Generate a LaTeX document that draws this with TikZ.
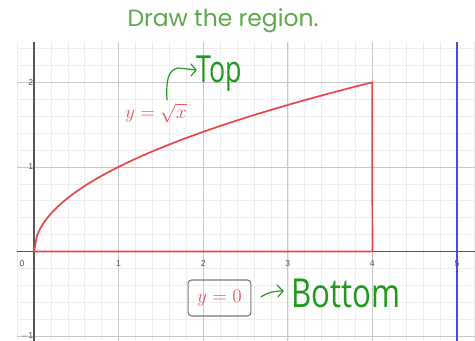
\documentclass[tikz,border=0pt]{standalone}
\usepackage{fontspec}
\usepackage{graphicx}
\setmainfont{Liberation Sans}
\newfontfamily\titlefont{Poppins}
\newfontfamily\handfont{Open Sans}
\definecolor{titlegreen}{HTML}{5DAA4A}
\definecolor{handgreen}{HTML}{1F9A1F}
\definecolor{curvered}{HTML}{E8474C}
\definecolor{labelred}{HTML}{E25A60}
\definecolor{minorgrid}{HTML}{EDEDED}
\definecolor{majorgrid}{HTML}{C8C8C8}
\definecolor{axisgray}{HTML}{555555}
\definecolor{ticklabel}{HTML}{555555}
\definecolor{blueline}{HTML}{4B4BD6}
\tikzset{
  curve/.style={draw=curvered, line width=1.3pt},
  ticklab/.style={text=ticklabel, font=\fontsize{6.5}{7}\selectfont, inner sep=0pt},
  handtext/.style={text=handgreen, inner sep=0pt},
  handarrow/.style={draw=handgreen, line width=0.9pt, line cap=round, line join=round},
  mathlab/.style={text=labelred, font=\fontsize{14}{16}\selectfont, inner sep=0pt},
}
\begin{document}
\begin{tikzpicture}[x=0.75pt,y=-0.75pt]
\useasboundingbox (0,0) rectangle (475,341);
\fill[white] (0,0) rectangle (475,341);
\node[text=titlegreen, font=\titlefont\fontsize{17.6}{19}\selectfont, inner sep=0pt] (title) at (223,21) {Draw the region.};
\begin{scope}[shift={(25.5pt,-188.625pt)}, x=63.45pt, y=63.45pt]
  \begin{scope}
    \clip (-0.2,-1.058) rectangle (5.22,2.476);
    \draw[minorgrid, line width=0.4pt] (-0.2,-1.2) grid[step=0.2] (5.4,2.6);
    \draw[majorgrid, line width=0.5pt] (-1,-2) grid[step=1] (6,3);
    \draw[axisgray, line width=0.8pt] (-0.2,0) -- (5.4,0);
    \draw[axisgray, line width=0.8pt] (0,-1.2) -- (0,2.6);
    \draw[blueline, line width=1.2pt] (5,-1.2) -- (5,2.6);
  \end{scope}
  \node[ticklab] (l0) at (-0.14,-0.14) {0};
  \foreach \i in {1,2,3,4,5} { \node[ticklab] (lx\i) at (\i,-0.14) {\i}; }
  \node[ticklab, anchor=east] (ly2) at (-0.005,2.0) {2};
  \node[ticklab, anchor=east] (ly1) at (-0.005,1.0) {1};
  \node[ticklab, anchor=east] (lym1) at (-0.005,-1.0) {$-$1};
  \draw[curve, line join=round] plot[domain=0:4, samples=120, variable=\t] ({\t},{sqrt(\t)}) -- (4,0) -- (0,0);
\end{scope}
\node[mathlab] (lsqrt) at (156,113) {$y=\sqrt{x}$};
\node[mathlab, draw=axisgray!80, rounded corners=2.5pt, line width=0.8pt, minimum width=47pt, minimum height=27pt] (lzero) at (219.5,298) {$y=0$};
% handwritten Top
\coordinate (topstart) at (167,100);
\coordinate (toptip) at (196,70);
\draw[handarrow] (topstart) .. controls (166,80) and (168,70) .. (178,68) -- (toptip);
\draw[handarrow] (191,64) -- (toptip) -- (191,76);
\node[handtext, anchor=west, font=\handfont\fontsize{28}{30}\selectfont] (top) at (196,74) {\scalebox{0.72}[1]{Top}};
% handwritten Bottom
\coordinate (botstart) at (261,297);
\coordinate (bottip) at (283,291);
\draw[handarrow] (botstart) .. controls (268,292) and (275,291) .. (bottip);
\draw[handarrow] (277,285) -- (bottip) -- (278,297);
\node[handtext, anchor=west, font=\handfont\fontsize{30}{32}\selectfont] (bottom) at (291,293) {\scalebox{0.78}[1]{Bottom}};
\end{tikzpicture}
\end{document}
